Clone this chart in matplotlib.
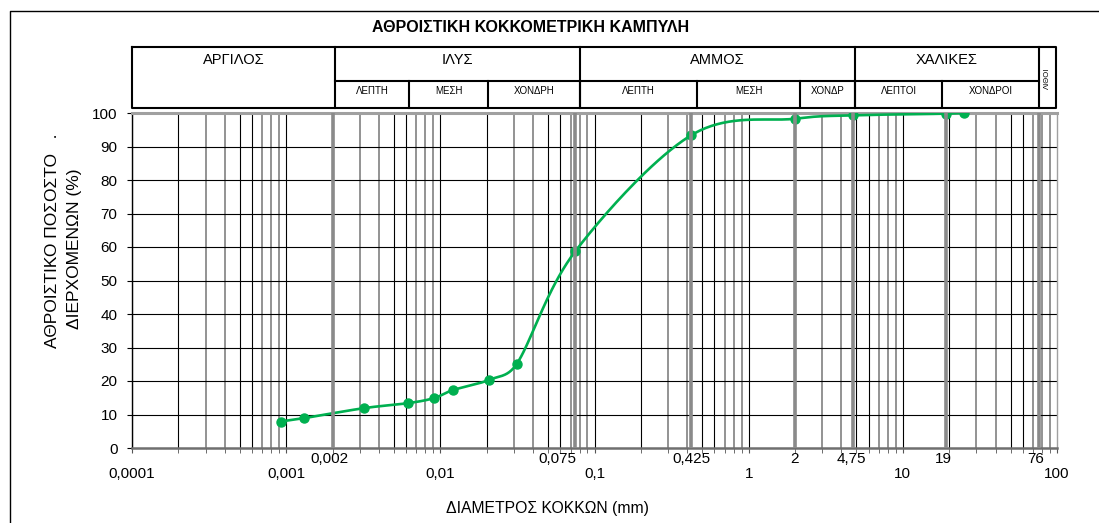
import numpy as np
import matplotlib.pyplot as plt

plt.rcParams['font.family'] = ['Liberation Sans', 'DejaVu Sans']

# grain size distribution (sieve + hydrometer)
diam = [0.00092, 0.0013, 0.0032, 0.0062, 0.0091, 0.0121, 0.0206, 0.0313,
        0.075, 0.425, 2.0, 4.75, 19.0, 25.0]
passing = [7.9, 8.9, 11.9, 13.4, 14.9, 17.3, 20.3, 25.1,
           58.7, 93.4, 98.3, 99.3, 99.8, 100.0]

decades = [0.0001, 0.001, 0.01, 0.1, 1, 10, 100]
decade_labels = ['0,0001', '0,001', '0,01', '0,1', '1', '10', '100']
sieves = [0.002, 0.075, 0.425, 2, 4.75, 19, 76]
sieve_labels = ['0,002', '0,075', '0,425', '2', '4,75', '19', '76']
sieve_dx = [-3, -18, 0, -1, -2, -2, -3]

main_cls = ['ΑΡΓΙΛΟΣ', 'ΙΛΥΣ', 'ΑΜΜΟΣ', 'ΧΑΛΙΚΕΣ']
sub_cls = ['ΛΕΠΤΗ', 'ΜΕΣΗ', 'ΧΟΝΔΡΗ', 'ΛΕΠΤΗ', 'ΜΕΣΗ', 'ΧΟΝΔΡ', 'ΛΕΠΤΟΙ', 'ΧΟΝΔΡΟΙ']

W, H = 1099, 523
GREEN = '#00b050'
GREY = '#8a8a8a'
TICK_FS = 11


def smooth(pts, n=40):
    # bezier smoothing through the points, control arms capped at half the segment
    out = []
    for i in range(len(pts) - 1):
        p0 = pts[max(i - 1, 0)]
        p1 = pts[i]
        p2 = pts[i + 1]
        p3 = pts[min(i + 2, len(pts) - 1)]
        half = np.hypot(*(p2 - p1)) / 2
        a1 = (p2 - p0) / 6
        a2 = (p3 - p1) / 6
        for a in (a1, a2):
            ln = np.hypot(*a)
            if ln > half:
                a *= half / ln
        c1 = p1 + a1
        c2 = p2 - a2
        t = np.linspace(0, 1, n)[:, None]
        seg = (1 - t)**3 * p1 + 3 * (1 - t)**2 * t * c1 + 3 * (1 - t) * t**2 * c2 + t**3 * p2
        out.append(seg if i == 0 else seg[1:])
    return np.vstack(out)


fig = plt.figure(figsize=(W / 100, H / 100), dpi=100)
ax = fig.add_axes([132 / W, (H - 448) / H, (1057 - 132) / W, (448 - 113) / H])
ax.set_xscale('log')
ax.set_xlim(1e-4, 100)
ax.set_ylim(0, 100)

# log grid
minor = []
for k in range(-4, 2):
    for m in range(1, 10):
        v = m * 10.0**k
        minor.append(v)
        if m in (1, 2, 5, 6):
            ax.axvline(v, color='black', lw=0.8, zorder=1)
        else:
            ax.axvline(v, color=GREY, lw=1.3, zorder=1)
for y in range(10, 100, 10):
    ax.axhline(y, color='black', lw=0.8, zorder=1)

for s in sieves:
    ax.axvline(s, color=GREY, lw=2.6, zorder=4)

# curve
disp = ax.transData.transform(np.column_stack([diam, passing]))
curve = ax.transData.inverted().transform(smooth(disp))
ax.plot(curve[:, 0], curve[:, 1], color=GREEN, lw=1.9, zorder=3)
ax.plot(diam, passing, 'o', color=GREEN, ms=6.5, zorder=3)

ax.set_xticks(decades)
ax.set_xticklabels(decade_labels, fontsize=TICK_FS)
ax.set_xticks(minor + [100], minor=True)
ax.xaxis.set_minor_formatter(plt.NullFormatter())
ax.tick_params(axis='x', which='both', direction='out', length=3.5, color='#555555', pad=10)
ax.set_yticks(range(0, 101, 10))
ax.tick_params(axis='y', direction='out', length=3.5, pad=7, labelsize=TICK_FS)

for s, lbl, dx in zip(sieves, sieve_labels, sieve_dx):
    ax.annotate(lbl, xy=(s, 0), xytext=(dx, -11), textcoords='offset pixels',
                ha='center', va='center', fontsize=TICK_FS, annotation_clip=False)

ax.spines['top'].set_color('#a0a0a0')
ax.spines['top'].set_linewidth(2.2)
ax.spines['bottom'].set_color('#6f6f6f')
ax.spines['bottom'].set_linewidth(1.8)
ax.spines['left'].set_color('black')
ax.spines['left'].set_linewidth(1.0)
ax.spines['right'].set_color('#a0a0a0')
ax.spines['right'].set_linewidth(1.0)

# header table, frame and titles in pixel units
ov = fig.add_axes([0, 0, 1, 1])
ov.set_xlim(0, W)
ov.set_ylim(H, 0)
ov.set_axis_off()

ov.plot([9.5, 9.5, W], [H, 10.5, 10.5], color='black', lw=1.0)

top, mid, bot = 46.7, 80.7, 108.3
left, right = 132, 1056
main_edges = [132, 335, 580, 855, 1039]
sub_edges = [335, 409, 488, 580, 697, 800, 855, 942, 1039]
ov.plot([left, right, right, left, left], [top, top, bot, bot, top], color='black', lw=1.5)
for x in main_edges[1:]:
    ov.plot([x, x], [top, bot], color='black', lw=1.5)
ov.plot([335, 1039], [mid, mid], color='black', lw=1.5)
for x in sub_edges[1:-1]:
    ov.plot([x, x], [mid, bot], color='black', lw=1.5)

for i, name in enumerate(main_cls):
    ov.text((main_edges[i] + main_edges[i + 1]) / 2, 60.5, name, ha='center', va='center', fontsize=10.5)
for i, name in enumerate(sub_cls):
    ov.text((sub_edges[i] + sub_edges[i + 1]) / 2, 91.5, name, ha='center', va='center', fontsize=7)
ov.text(1047, 78, 'ΛΙΘΟΙ', rotation=90, ha='center', va='center', fontsize=5.5)

ov.text(531, 28, 'ΑΘΡΟΙΣΤΙΚΗ ΚΟΚΚΟΜΕΤΡΙΚΗ ΚΑΜΠΥΛΗ', ha='center', va='center',
        fontsize=11.5, fontweight='bold')
ov.text(547, 508, 'ΔΙΑΜΕΤΡΟΣ ΚΟΚΚΩΝ (mm)', ha='center', va='center', fontsize=11.3)
ov.text(53, 348, 'ΑΘΡΟΙΣΤΙΚΟ ΠΟΣΟΣΤΟ   .', rotation=90, ha='center', va='bottom', fontsize=12.5)
ov.text(75, 248.5, 'ΔΙΕΡΧΟΜΕΝΩΝ (%)', rotation=90, ha='center', va='center', fontsize=12.5)

fig.savefig('out.png', dpi=100)
